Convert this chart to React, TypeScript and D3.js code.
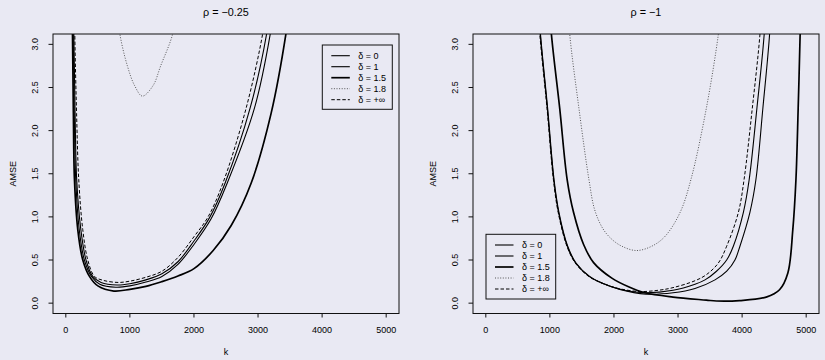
import React from "react";
import * as d3 from "d3";

// ---------- data ----------
const K_TICKS = [0, 1000, 2000, 3000, 4000, 5000];
const AMSE_TICKS = [0, 0.5, 1, 1.5, 2, 2.5, 3];
const AMSE_TICK_LABELS = ["0.0", "0.5", "1.0", "1.5", "2.0", "2.5", "3.0"];
const LEGEND_LABELS = ["δ = 0", "δ = 1", "δ = 1.5", "δ = 1.8", "δ = +∞"];
const PANEL_TITLES = ["ρ = −0.25", "ρ = −1"];
const X_LABEL = "k";
const Y_LABEL = "AMSE";

// panel 1 : rho = -0.25   ([k, AMSE])
const r025_delta0: [number, number][] = [
  [105, 4.5], [125, 3.13], [145, 2.2], [170, 1.43], [235, 0.85], [315, 0.5], [420, 0.31],
  [550, 0.24], [800, 0.21], [1000, 0.225], [1250, 0.27], [1500, 0.34], [1750, 0.48],
  [2000, 0.72], [2250, 1.0], [2485, 1.39], [2876, 2.26], [3136, 3.13], [3200, 3.5],
];
const r025_delta1: [number, number][] = [
  [95, 4.5], [115, 3.13], [132, 2.2], [155, 1.43], [210, 0.85], [290, 0.5], [400, 0.31],
  [530, 0.22], [780, 0.185], [1000, 0.2], [1250, 0.245], [1500, 0.31], [1750, 0.45],
  [2000, 0.68], [2270, 0.98], [2518, 1.39], [2944, 2.26], [3193, 3.13], [3260, 3.5],
];
const r025_delta15: [number, number][] = [
  [85, 4.5], [104, 3.13], [118, 2.2], [135, 1.43], [187, 0.85], [265, 0.5], [369, 0.31],
  [500, 0.2], [750, 0.14], [1000, 0.16], [1250, 0.195], [1500, 0.25], [1750, 0.315],
  [2000, 0.4], [2300, 0.61], [2581, 0.9], [2892, 1.39], [3204, 2.2], [3437, 3.13], [3500, 3.5],
];
const r025_delta18: [number, number][] = [
  [790, 3.5], [841, 3.13], [961, 2.75], [1075, 2.52], [1194, 2.4], [1360, 2.52],
  [1480, 2.75], [1671, 3.13], [1740, 3.5],
];
const r025_deltaInf: [number, number][] = [
  [118, 4.5], [140, 3.13], [168, 2.2], [202, 1.43], [265, 0.85], [343, 0.5], [447, 0.31],
  [580, 0.265], [820, 0.24], [1000, 0.255], [1250, 0.3], [1500, 0.37], [1750, 0.53],
  [2000, 0.77], [2220, 1.0], [2451, 1.39], [2814, 2.26], [3074, 3.13], [3140, 3.5],
];

// panel 2 : rho = -1   ([k, AMSE])
const r1_delta0: [number, number][] = [
  [790, 3.8], [848, 3.13], [960, 2.26], [1060, 1.43], [1136, 1.05], [1272, 0.66],
  [1402, 0.465], [1612, 0.31], [1820, 0.23], [2080, 0.165], [2450, 0.122], [2922, 0.15],
  [3265, 0.22], [3421, 0.27], [3600, 0.37], [3759, 0.5], [3863, 0.66], [4019, 1.05],
  [4110, 1.43], [4231, 2.26], [4346, 3.13], [4390, 3.8],
];
const r1_delta1: [number, number][] = [
  [795, 3.8], [852, 3.13], [965, 2.26], [1065, 1.43], [1142, 1.05], [1278, 0.66],
  [1408, 0.465], [1620, 0.31], [1830, 0.228], [2090, 0.16], [2500, 0.105], [2922, 0.12],
  [3265, 0.17], [3577, 0.27], [3760, 0.37], [3888, 0.5], [3966, 0.66], [4121, 1.05],
  [4215, 1.43], [4324, 2.26], [4430, 3.13], [4470, 3.8],
];
const r1_delta15: [number, number][] = [
  [960, 3.8], [1022, 3.13], [1153, 2.26], [1270, 1.43], [1370, 1.05], [1526, 0.68],
  [1682, 0.47], [1967, 0.29], [2227, 0.19], [2486, 0.12], [2922, 0.07], [3442, 0.035],
  [3600, 0.025], [3961, 0.03], [4377, 0.07], [4584, 0.155], [4714, 0.35], [4791, 0.85],
  [4840, 1.43], [4875, 2.26], [4906, 3.13], [4925, 3.8],
];
const r1_delta18: [number, number][] = [
  [1250, 3.8], [1308, 3.13], [1453, 2.26], [1610, 1.43], [1700, 1.08], [1830, 0.86],
  [1967, 0.74], [2123, 0.66], [2350, 0.61], [2590, 0.66], [2798, 0.775], [3031, 1.05],
  [3200, 1.43], [3442, 2.26], [3632, 3.13], [3700, 3.6],
];
const r1_deltaInf: [number, number][] = [
  [780, 3.8], [841, 3.13], [955, 2.26], [1055, 1.43], [1130, 1.05], [1266, 0.66],
  [1396, 0.465], [1604, 0.31], [1811, 0.233], [2071, 0.17], [2400, 0.135], [2700, 0.15],
  [2922, 0.18], [3265, 0.26], [3442, 0.33], [3629, 0.465], [3759, 0.66], [3941, 1.05],
  [4030, 1.43], [4159, 2.26], [4280, 3.13], [4330, 3.8],
];

const PANEL_SERIES = [
  [r025_delta0, r025_delta1, r025_delta15, r025_delta18, r025_deltaInf],
  [r1_delta0, r1_delta1, r1_delta15, r1_delta18, r1_deltaInf],
];

// ---------- styles ----------
const FONT = "'Liberation Sans', Arial, Helvetica, sans-serif";
const BG = "#e9e9f3";
const LINE_STYLES = [
  { w: 1.1, dash: "none", color: "#000" },
  { w: 1.1, dash: "none", color: "#000" },
  { w: 1.7, dash: "none", color: "#000" },
  { w: 0.9, dash: "1,1.6", color: "#444" },
  { w: 1.0, dash: "3.5,2", color: "#000" },
];

const W = 825;
const H = 360;

type PanelProps = {
  idx: number;
  x0: number;
  legend: { x: number; y: number; w: number; h: number };
};

const PY0 = 34;
const PY1 = 313.5;
const PW = 346;

function Panel({ idx, x0, legend }: PanelProps) {
  const x1 = x0 + PW;
  const xs = d3.scaleLinear().domain([-200, 5200]).range([x0, x1]);
  const ys = d3.scaleLinear().domain([-0.12, 3.12]).range([PY1, PY0]);
  const line = d3
    .line<[number, number]>()
    .x((d) => xs(d[0]))
    .y((d) => ys(d[1]))
    .curve(d3.curveCatmullRom.alpha(0.5));
  const clipId = `clip-${idx}`;
  const cx = (x0 + x1) / 2;
  const yLabX = x0 - 18;
  const rowH = 11;
  return (
    <g>
      <defs>
        <clipPath id={clipId}>
          <rect x={x0} y={PY0} width={PW} height={PY1 - PY0} />
        </clipPath>
      </defs>
      <text x={cx} y={16} textAnchor="middle" fontSize={10.8} fontFamily={FONT} fill="#000">
        {PANEL_TITLES[idx]}
      </text>
      <g clipPath={`url(#${clipId})`}>
        {PANEL_SERIES[idx].map((s, i) => (
          <path
            key={i}
            d={line(s) || ""}
            fill="none"
            stroke={LINE_STYLES[i].color}
            strokeWidth={LINE_STYLES[i].w}
            strokeDasharray={LINE_STYLES[i].dash}
            strokeLinejoin="round"
          />
        ))}
      </g>
      <rect x={x0} y={PY0} width={PW} height={PY1 - PY0} fill="none" stroke="#111" strokeWidth={1} />
      {/* x axis */}
      {K_TICKS.map((t) => (
        <g key={t}>
          <line x1={xs(t)} x2={xs(t)} y1={PY1} y2={PY1 + 4} stroke="#111" strokeWidth={1} />
          <text x={xs(t)} y={333} textAnchor="middle" fontSize={9} fontFamily={FONT} fill="#000">
            {t}
          </text>
        </g>
      ))}
      {/* y axis */}
      {AMSE_TICKS.map((t, i) => (
        <g key={t}>
          <line x1={x0 - 4.5} x2={x0} y1={ys(t)} y2={ys(t)} stroke="#111" strokeWidth={1} />
          <text
            x={yLabX}
            y={ys(t)}
            transform={`rotate(-90, ${yLabX}, ${ys(t)})`}
            textAnchor="middle"
            dominantBaseline="central"
            fontSize={9}
            fontFamily={FONT}
            fill="#000"
          >
            {AMSE_TICK_LABELS[i]}
          </text>
        </g>
      ))}
      <text x={cx} y={355} textAnchor="middle" fontSize={9} fontFamily={FONT} fill="#000">
        {X_LABEL}
      </text>
      <text
        x={x0 - 40}
        y={(PY0 + PY1) / 2}
        transform={`rotate(-90, ${x0 - 40}, ${(PY0 + PY1) / 2})`}
        textAnchor="middle"
        dominantBaseline="central"
        fontSize={9}
        fontFamily={FONT}
        fill="#000"
      >
        {Y_LABEL}
      </text>
      {/* legend */}
      <rect x={legend.x} y={legend.y} width={legend.w} height={legend.h} fill={BG} stroke="#111" strokeWidth={1} />
      {LEGEND_LABELS.map((lab, i) => {
        const ry = legend.y + 10.7 + i * rowH;
        return (
          <g key={lab}>
            <line
              x1={legend.x + 9}
              x2={legend.x + 27.5}
              y1={ry}
              y2={ry}
              stroke={LINE_STYLES[i].color}
              strokeWidth={LINE_STYLES[i].w}
              strokeDasharray={LINE_STYLES[i].dash}
            />
            <text
              x={legend.x + 36}
              y={ry}
              dominantBaseline="central"
              fontSize={9}
              fontFamily={FONT}
              fill="#000"
            >
              {lab}
            </text>
          </g>
        );
      })}
    </g>
  );
}

export default function App() {
  return (
    <svg
      width={W}
      height={H}
      style={{ position: "absolute", left: 0, top: 0, display: "block" }}
    >
      <rect x={0} y={0} width={W} height={H} fill={BG} />
      <Panel idx={0} x0={53} legend={{ x: 322.3, y: 45, w: 70, h: 64.3 }} />
      <Panel idx={1} x0={473} legend={{ x: 486, y: 234.3, w: 69.7, h: 64.7 }} />
    </svg>
  );
}
